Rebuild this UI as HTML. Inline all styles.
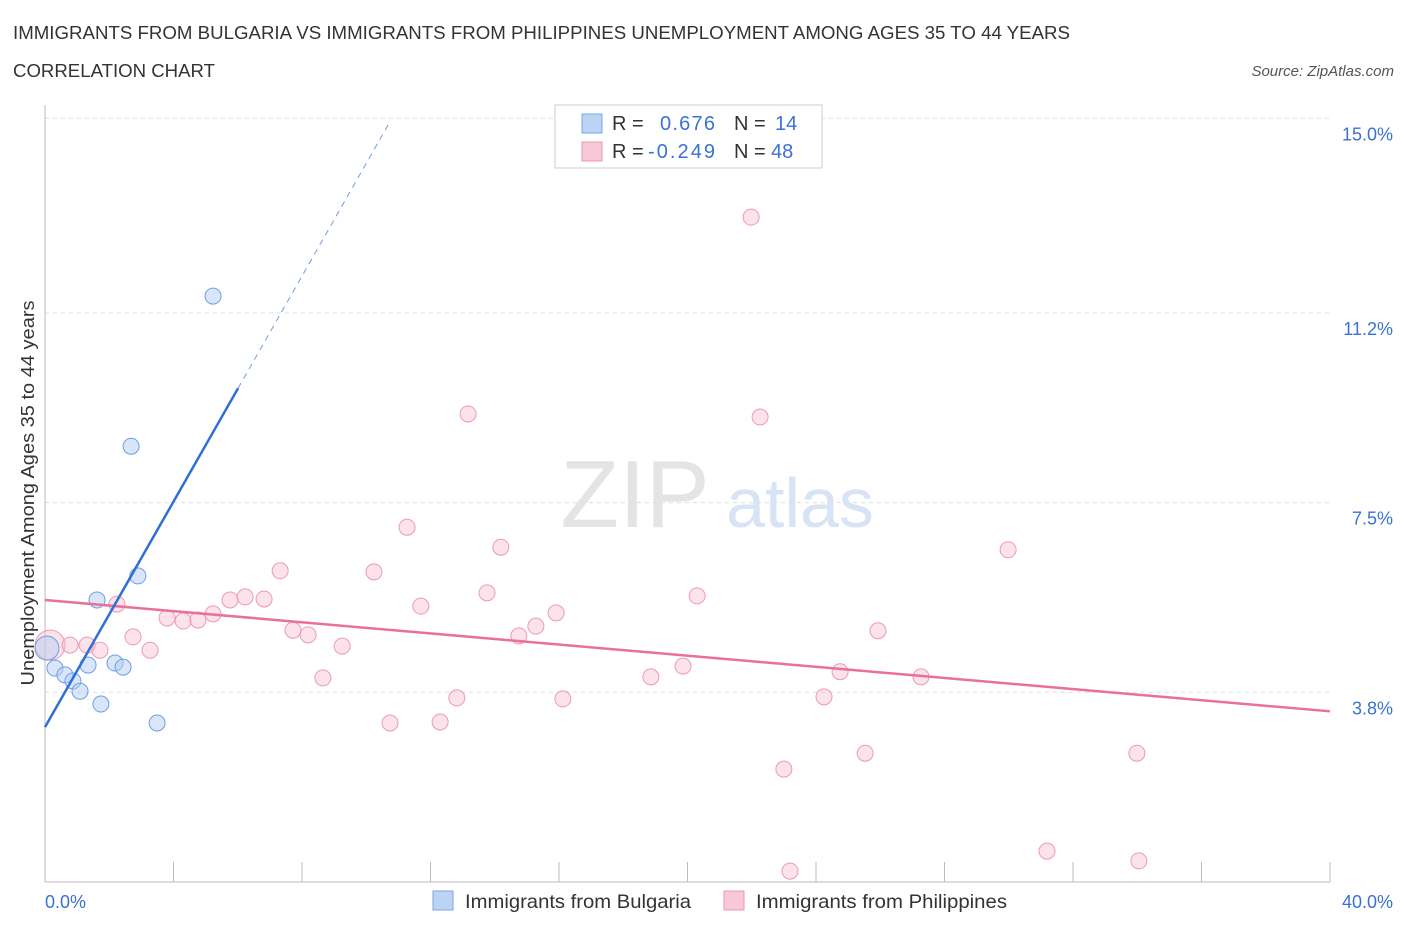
<!DOCTYPE html>
<html><head><meta charset="utf-8"><style>
body{margin:0;background:#fff;font-family:"Liberation Sans",sans-serif}
svg text{font-family:"Liberation Sans",sans-serif}
</style></head><body>
<svg id="c" width="1406" height="930" xmlns="http://www.w3.org/2000/svg">
<text x="13" y="39" font-size="18" fill="#333" textLength="1057" lengthAdjust="spacingAndGlyphs">IMMIGRANTS FROM BULGARIA VS IMMIGRANTS FROM PHILIPPINES UNEMPLOYMENT AMONG AGES 35 TO 44 YEARS</text>
<text x="13" y="77" font-size="18" fill="#333" textLength="202" lengthAdjust="spacingAndGlyphs">CORRELATION CHART</text>
<text x="1394" y="76" font-size="15" fill="#555" font-style="italic" text-anchor="end">Source: ZipAtlas.com</text>
<text x="635" y="527" font-size="96" fill="#e4e4e4" text-anchor="middle" font-family="Liberation Serif">ZIP</text>
<text x="800" y="527" font-size="70" fill="#d6e4f5" text-anchor="middle">atlas</text>
<text transform="translate(34,493) rotate(-90)" font-size="18" fill="#333" text-anchor="middle" textLength="385" lengthAdjust="spacingAndGlyphs">Unemployment Among Ages 35 to 44 years</text>
<g id="grid"></g><g id="marks"></g>
<rect x="555" y="105" width="267" height="63" fill="#fff" stroke="#ccc"/>
<rect x="582" y="114" width="20" height="19" fill="#bcd4f4" stroke="#7aa6e0"/>
<rect x="582" y="142" width="20" height="19" fill="#f8c8d6" stroke="#e897b2"/>
<text y="130" font-size="20" fill="#333"><tspan x="612">R =</tspan><tspan x="660" fill="#3a72d4" textLength="55">0.676</tspan><tspan x="734" fill="#333">N =</tspan><tspan x="775" fill="#3a72d4">14</tspan></text>
<text y="158" font-size="20" fill="#333"><tspan x="612">R =</tspan><tspan x="648" fill="#3a72d4" textLength="67">-0.249</tspan><tspan x="734" fill="#333">N =</tspan><tspan x="771" fill="#3a72d4">48</tspan></text>
<rect x="433" y="891" width="20" height="19" fill="#bcd4f4" stroke="#7aa6e0"/>
<text x="465" y="908" font-size="19.5" fill="#333" textLength="226" lengthAdjust="spacingAndGlyphs">Immigrants from Bulgaria</text>
<rect x="724" y="891" width="20" height="19" fill="#f8c8d6" stroke="#e897b2"/>
<text x="756" y="908" font-size="19.5" fill="#333" textLength="251" lengthAdjust="spacingAndGlyphs">Immigrants from Philippines</text>
</svg>
<script>
const bgX=[0.06,0.31,0.62,0.87,1.09,1.34,1.62,1.74,2.18,2.43,2.68,2.89,3.49,5.23];
const bgY=[4.66,4.27,4.14,4.02,3.82,4.33,5.60,3.57,4.37,4.29,8.60,6.07,3.20,11.53];
const phX=[0.16,0.78,1.31,1.71,2.24,2.74,3.27,3.80,4.30,4.76,5.23,5.76,6.23,6.82,7.32,7.72,8.19,8.65,9.25,10.24,10.74,11.27,11.70,12.30,12.82,13.17,13.76,14.19,14.75,15.28,15.91,16.12,18.86,19.86,20.30,21.98,22.26,23.00,23.19,24.25,24.75,25.53,25.93,27.27,29.98,31.19,33.99,34.05];
const phY=[4.72,4.72,4.72,4.62,5.52,4.88,4.62,5.25,5.19,5.21,5.33,5.60,5.66,5.62,6.17,5.01,4.92,4.08,4.70,6.15,3.20,7.02,5.48,3.22,3.69,9.23,5.74,6.63,4.90,5.09,5.35,3.67,4.10,4.31,5.68,13.07,9.17,2.30,0.31,3.71,4.20,2.61,5.00,4.10,6.58,0.70,2.61,0.51];
const yTicks=[3.8,7.5,11.2,15.0];
const yTickLabels=["3.8%","7.5%","11.2%","15.0%"];
const xTicks=[0,4,8,12,16,20,24,28,32,36,40];
const bgTrend=[3.12,1.10];
const phTrend=[5.60,-0.0543];
const X=v=>45+v*32.125, Y=v=>887-v*51.25;
const NS="http://www.w3.org/2000/svg";
function mk(p,t,a){const e=document.createElementNS(NS,t);for(const k in a)e.setAttribute(k,a[k]);p.appendChild(e);return e;}
const g=document.getElementById('grid'), m=document.getElementById('marks');
yTicks.forEach((t,i)=>{
 const l=mk(g,'line',{x1:45,x2:1330,y1:Y(t),y2:Y(t),stroke:'#ddd','stroke-dasharray':'4,4'});
 
 
 const tx=mk(g,'text',{x:1393,y:Y(t)+22,'font-size':18,fill:'#3a72d4','text-anchor':'end'});
 tx.textContent=yTickLabels[i];
 
 
});
const ax=mk(g,'line',{x1:45,x2:1330,y1:882,y2:882,stroke:'#bbb'});


const ay=mk(g,'line',{x1:45,x2:45,y1:105,y2:882,stroke:'#bbb'});


xTicks.forEach(t=>{
 const l=mk(g,'line',{x1:X(t),x2:X(t),y1:862,y2:882,stroke:'#bbb'});
 
 
});
const xl0=mk(g,'text',{x:45,y:908,'font-size':18,fill:'#3a72d4'});xl0.textContent='0.0%';


const xl1=mk(g,'text',{x:1393,y:908,'font-size':18,fill:'#3a72d4','text-anchor':'end'});xl1.textContent='40.0%';


phX.forEach((x,i)=>{
 const c=mk(m,'circle',{cx:X(x),cy:Y(phY[i]),r:i==0?15:8,fill:'rgba(248,190,208,0.45)',stroke:'#ec9ab6','stroke-width':1});
 
 
});
bgX.forEach((x,i)=>{
 const c=mk(m,'circle',{cx:X(x),cy:Y(bgY[i]),r:i==0?12:8,fill:'rgba(180,206,244,0.5)',stroke:'#6f9ee0','stroke-width':1});
 
 
});
const pl=mk(m,'line',{x1:X(0),y1:Y(phTrend[0]),x2:X(40),y2:Y(phTrend[0]+phTrend[1]*40),stroke:'#e8709a','stroke-width':2.5});


const bl=mk(m,'line',{x1:X(0),y1:Y(bgTrend[0]),x2:X(6.01),y2:Y(bgTrend[0]+bgTrend[1]*6.01),stroke:'#2f6fd6','stroke-width':2.5});


const bd=mk(m,'line',{x1:X(6.01),y1:Y(bgTrend[0]+bgTrend[1]*6.01),x2:X(10.75),y2:Y(bgTrend[0]+bgTrend[1]*10.75),stroke:'#6f9ee0','stroke-width':1,'stroke-dasharray':'6,5'});


</script>
</body></html>
